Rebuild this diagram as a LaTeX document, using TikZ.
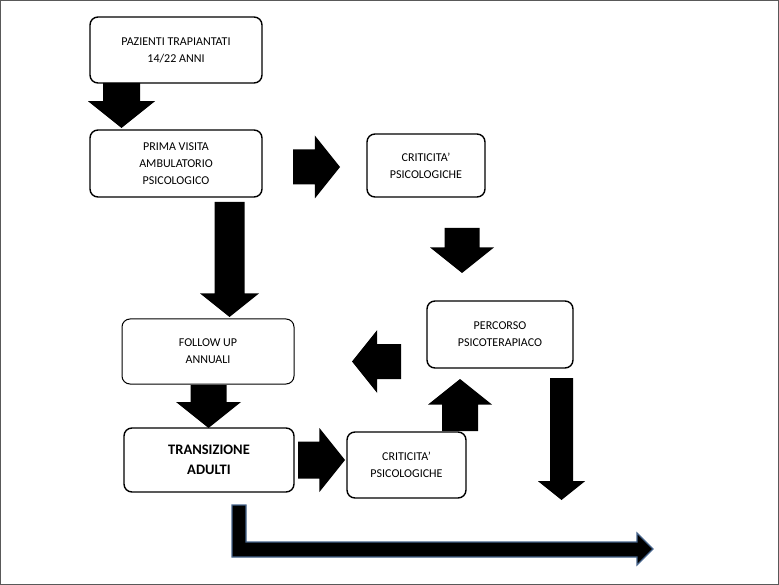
\documentclass[tikz,border=0pt]{standalone}
\usepackage{fontspec}
\setmainfont{Carlito}

\tikzset{
	box/.style={draw, line width=1.4pt, rounded corners=8pt, align=center, font=\fontsize{12}{17}\selectfont},
	blk/.style={fill=black}
}
% block arrow: name, centre, direction, length, shaft, head
\newcommand{\blk}[6]{\coordinate (#1) at (#2);
	\fill[blk, shift={(#2)}, rotate=#3] (-#4/2,-#5/2) -- ({#4/2-0.4*#6},-#5/2) -- ({#4/2-0.4*#6},-#6/2)
		-- (#4/2,0) -- ({#4/2-0.4*#6},#6/2) -- ({#4/2-0.4*#6},#5/2) -- (-#4/2,#5/2) -- cycle;}

\begin{document}
\begin{tikzpicture}[x=1pt, y=-1pt]

	\draw[gray!70!black, line width=1pt] (0.5,0.5) rectangle (778.5,584.5);

	\node[box, minimum width=172pt, minimum height=66pt] (paz) at (176,50) {PAZIENTI TRAPIANTATI\\14/22 ANNI};
	\node[box, minimum width=172pt, minimum height=67pt] (prima) at (176,163.5) {PRIMA VISITA\\AMBULATORIO\\PSICOLOGICO};
	\node[box, minimum width=118pt, minimum height=63pt] (crit) at (426,165.5) {CRITICITA'\\PSICOLOGICHE};
	\node[box, minimum width=146pt, minimum height=67pt] (perc) at (500,334.5) {PERCORSO\\PSICOTERAPIACO};
	\node[box, line width=1pt, minimum width=172pt, minimum height=65pt] (foll) at (208,351.5) {FOLLOW UP\\ANNUALI};
	\node[box, minimum width=170pt, minimum height=64pt, font=\fontsize{14.5}{20}\selectfont\bfseries] (trans) at (209,460) {TRANSIZIONE\\ADULTI};
	\node[box, minimum width=119pt, minimum height=66pt] (crit2) at (406.5,465) {CRITICITA'\\PSICOLOGICHE};

	\blk{a1}{121.5,105.5}{270}{45}{37}{67}
	\blk{a2}{316.5,167}{0}{47}{35}{63}
	\blk{a3}{462,250.5}{270}{45}{35}{64}
	\blk{a4}{229.5,259.5}{270}{115}{30}{59}
	\blk{a5}{376.5,361.5}{180}{49}{35}{63}
	\blk{a6}{208.5,406.5}{270}{43}{36}{65}
	\blk{a7}{321.5,460}{0}{47}{37}{64}
	\blk{a8}{460,405}{90}{52}{36}{64}
	\blk{a9}{561.5,439}{270}{122}{23}{47}

	\draw[fill=black, draw={rgb,255:red,70;green,100;blue,140}, line width=1.2pt]
		(232,505) -- (246,505) -- (246,542) -- (637,542) -- (637,533) -- (653,549)
		-- (637,565) -- (637,557) -- (232,557) -- cycle;

\end{tikzpicture}
\end{document}
